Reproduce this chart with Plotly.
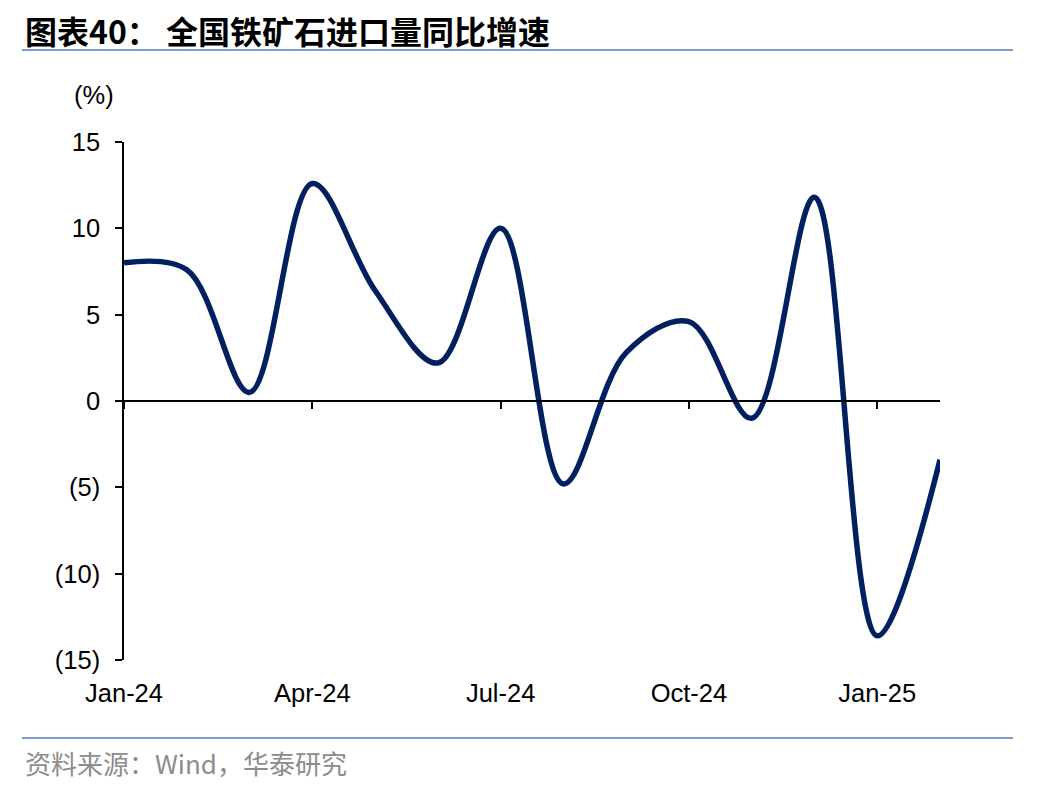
import plotly.graph_objects as go

# ---- data ----
months = ["Jan-24", "Feb-24", "Mar-24", "Apr-24", "May-24", "Jun-24", "Jul-24",
          "Aug-24", "Sep-24", "Oct-24", "Nov-24", "Dec-24", "Jan-25", "Feb-25"]
yoy = [8.0, 7.6, 0.5, 12.6, 6.4, 2.2, 10.0, -4.8, 2.8, 4.6, -1.0, 11.8, -13.6, -3.4]
x_tick_labels = ["Jan-24", "Apr-24", "Jul-24", "Oct-24", "Jan-25"]
y_tick_vals = [15, 10, 5, 0, -5, -10, -15]
y_tick_text = ["15", "10", "5", "0", "(5)", "(10)", "(15)"]

title_text = "图表40： 全国铁矿石进口量同比增速"
source_text = "资料来源：Wind，华泰研究"

W, H = 1048, 792
idx = list(range(len(months)))
x_tick_idx = [months.index(m) for m in x_tick_labels]

# plot area in pixels
px_l, px_r = 124, 940
py_t, py_b = 142, 660
dom_x = [px_l / W, px_r / W]
dom_y = [1 - py_b / H, 1 - py_t / H]
zero_pos = (dom_y[0] + dom_y[1]) / 2

font_tick = dict(family="Liberation Sans, Arial, sans-serif", size=25.5, color="black")

fig = go.Figure()
fig.add_trace(go.Scatter(
    x=idx, y=yoy, mode="lines",
    line=dict(color="#002060", width=5.5, shape="spline", smoothing=1.0),
    hoverinfo="skip", showlegend=False))
# hidden copy so that the zero-line axis with tick marks is drawn
fig.add_trace(go.Scatter(
    x=idx, y=yoy, mode="lines", xaxis="x2", opacity=0,
    line=dict(width=0), hoverinfo="skip", showlegend=False))

fig.update_layout(
    width=W, height=H,
    margin=dict(l=0, r=0, t=0, b=0, autoexpand=False),
    paper_bgcolor="white", plot_bgcolor="white",
    xaxis=dict(
        domain=dom_x, range=[0, len(months) - 1],
        tickvals=x_tick_idx, ticktext=x_tick_labels,
        showline=False, showgrid=False, zeroline=False,
        ticks="outside", ticklen=10, tickcolor="rgba(0,0,0,0)",
        tickfont=font_tick, anchor="y", automargin=False),
    xaxis2=dict(
        domain=dom_x, range=[0, len(months) - 1], overlaying="x",
        anchor="free", position=zero_pos, side="bottom",
        tickvals=x_tick_idx, showticklabels=False,
        showline=True, linecolor="black", linewidth=1.5,
        ticks="outside", ticklen=7, tickwidth=1.5, tickcolor="black",
        showgrid=False, zeroline=False, automargin=False),
    yaxis=dict(
        domain=dom_y, range=[-15, 15],
        tickvals=y_tick_vals, ticktext=y_tick_text,
        showline=True, linecolor="black", linewidth=1.5,
        ticks="outside", ticklen=7, tickwidth=1.5, tickcolor="black",
        showgrid=False, zeroline=False, tickfont=font_tick,
        ticklabelstandoff=10, automargin=False),
)

# title, separators, unit label, source
fig.add_annotation(x=23 / W, y=1 - 30 / H, xref="paper", yref="paper",
                   xanchor="left", yanchor="middle", showarrow=False,
                   text="<b>" + title_text + "</b>",
                   font=dict(family="Noto Sans CJK SC", size=32, color="black"))
fig.add_shape(type="line", xref="paper", yref="paper",
              x0=22 / W, x1=1013 / W, y0=1 - 50 / H, y1=1 - 50 / H,
              line=dict(color="#7F9BC6", width=2))
fig.add_shape(type="line", xref="paper", yref="paper",
              x0=22 / W, x1=1013 / W, y0=1 - 738 / H, y1=1 - 738 / H,
              line=dict(color="#7F9BC6", width=2))
fig.add_annotation(x=94 / W, y=1 - 95 / H, xref="paper", yref="paper",
                   xanchor="center", yanchor="middle", showarrow=False,
                   text="(%)", font=font_tick)
fig.add_annotation(x=23 / W, y=1 - 762 / H, xref="paper", yref="paper",
                   xanchor="left", yanchor="middle", showarrow=False,
                   text=source_text,
                   font=dict(family="Noto Sans CJK SC, Liberation Sans", size=26, color="#8C8C8C"))

fig.write_html("out.html")
